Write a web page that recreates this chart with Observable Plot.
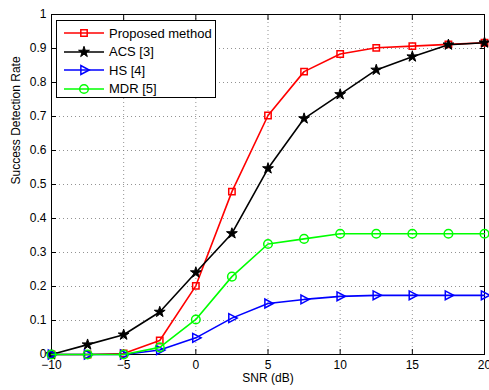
<!DOCTYPE html>
<html>
<head>
<meta charset="utf-8">
<script src="https://cdn.jsdelivr.net/npm/d3@7"></script>
<script src="https://cdn.jsdelivr.net/npm/@observablehq/plot@0.6"></script>
<style>
  html, body { margin: 0; padding: 0; background: #fff; }
  #wrap { position: relative; width: 489px; height: 390px; font-family: "Liberation Sans", Arial, sans-serif; }
  #legend { position: absolute; left: 56px; top: 20px; width: 160px; height: 78px; border: 1px solid #000; background: #fff; box-sizing: border-box; }
  .item { position: absolute; left: 0; height: 18px; display: flex; align-items: center; font-size: 13px; }
  .item svg { display: block; margin-left: 6px; }
  .item span { margin-left: 4px; }
</style>
</head>
<body>
<div id="wrap"></div>
<script>
const snr = [-10, -7.5, -5, -2.5, 0, 2.5, 5, 7.5, 10, 12.5, 15, 17.5, 20];
const proposed = [0, 0, 0.003, 0.041, 0.202, 0.479, 0.703, 0.832, 0.884, 0.902, 0.907, 0.912, 0.917];
const acs      = [0, 0.029, 0.058, 0.125, 0.241, 0.356, 0.547, 0.694, 0.765, 0.837, 0.876, 0.911, 0.917];
const hs       = [0, 0, 0, 0.013, 0.049, 0.107, 0.150, 0.162, 0.171, 0.174, 0.174, 0.174, 0.174];
const mdr      = [0, 0, 0, 0.021, 0.103, 0.229, 0.325, 0.340, 0.355, 0.355, 0.355, 0.355, 0.355];
const seriesNames = ["Proposed method", "ACS [3]", "HS [4]", "MDR [5]"];
const seriesColors = ["#ff0000", "#000000", "#0000ff", "#00ff00"];
const xTicks = [-10, -5, 0, 5, 10, 15, 20];
const yTicks = [0, 0.1, 0.2, 0.3, 0.4, 0.5, 0.6, 0.7, 0.8, 0.9, 1];

const triRight = {
  draw(context, size) {
    const r = Math.sqrt(size / Math.PI);
    context.moveTo(r, 0);
    context.lineTo(-r * 0.6, r * 0.85);
    context.lineTo(-r * 0.6, -r * 0.85);
    context.closePath();
  }
};
const symbols = ["square", "star", triRight, "circle"];
const radii = [3.6, 3.4, 5.2, 4.3];
const fills = ["none", "#000", "none", "none"];
const strokeWidths = [1.5, 1, 1.5, 1.5];

const allSeries = [proposed, acs, hs, mdr];
const data = allSeries.map((vals, i) => vals.map((v, j) => ({x: snr[j], y: v, s: i})));

const marks = [
  Plot.gridX(xTicks, {stroke: "#777", strokeOpacity: 1, strokeDasharray: "1,3", strokeWidth: 0.8}),
  Plot.gridY(yTicks, {stroke: "#777", strokeOpacity: 1, strokeDasharray: "1,3", strokeWidth: 0.8}),
  Plot.axisX(xTicks, {anchor: "bottom", tickSize: 0, tickPadding: 6, fontSize: 12, label: null, tickFormat: d => d < 0 ? "\u2212" + Math.abs(d) : d}),
  Plot.axisX(xTicks, {anchor: "bottom", tickSize: -5, text: null, label: null}),
  Plot.axisX(xTicks, {anchor: "top", tickSize: -5, text: null, label: null}),
  Plot.axisY(yTicks, {anchor: "left", tickSize: 0, tickPadding: 5, fontSize: 12, label: null, tickFormat: d => d === 0 || d === 1 ? String(d) : d.toFixed(1)}),
  Plot.axisY(yTicks, {anchor: "left", tickSize: -5, text: null, label: null}),
  Plot.axisY(yTicks, {anchor: "right", tickSize: -5, text: null, label: null}),
  Plot.frame({stroke: "#000", strokeWidth: 1})
];
data.forEach((d, i) => {
  marks.push(Plot.line(d, {x: "x", y: "y", stroke: seriesColors[i], strokeWidth: 1.6}));
  marks.push(Plot.dot(d, {x: "x", y: "y", symbol: symbols[i], r: radii[i], stroke: seriesColors[i], fill: fills[i], strokeWidth: strokeWidths[i]}));
});
marks.push(Plot.text(["Success Detection Rate"], {frameAnchor: "left", rotate: -90, dx: -35, fontSize: 12}));
marks.push(Plot.text(["SNR (dB)"], {frameAnchor: "bottom", dy: 27.5, fontSize: 12}));

const chart = Plot.plot({
  width: 489,
  height: 390,
  marginLeft: 51,
  marginRight: 5,
  marginTop: 14,
  marginBottom: 36,
  x: {domain: [-10, 20]},
  y: {domain: [0, 1]},
  style: {fontFamily: "'Liberation Sans', Arial, sans-serif", fontSize: "12px", color: "#000", background: "#fff", overflow: "visible"},
  marks
});
const wrap = document.getElementById("wrap");
wrap.appendChild(chart);

// Legend
const legend = document.createElement("div");
legend.id = "legend";
seriesNames.forEach((name, i) => {
  const item = document.createElement("div");
  item.className = "item";
  item.style.top = (3 + i * 18.5) + "px";
  const svg = d3.create("svg").attr("width", 42).attr("height", 18);
  svg.append("line").attr("x1", 1).attr("x2", 41).attr("y1", 9).attr("y2", 9).attr("stroke", seriesColors[i]).attr("stroke-width", 1.6);
  const sym = typeof symbols[i] === "string"
    ? {square: d3.symbolSquare, star: d3.symbolStar, circle: d3.symbolCircle}[symbols[i]]
    : symbols[i];
  svg.append("path").attr("transform", "translate(21,9)")
    .attr("d", d3.symbol(sym, radii[i] * radii[i] * Math.PI)())
    .attr("stroke", seriesColors[i]).attr("fill", fills[i]).attr("stroke-width", strokeWidths[i]);
  item.appendChild(svg.node());
  const span = document.createElement("span");
  span.textContent = name;
  item.appendChild(span);
  legend.appendChild(item);
});
wrap.appendChild(legend);
</script>
</body>
</html>
